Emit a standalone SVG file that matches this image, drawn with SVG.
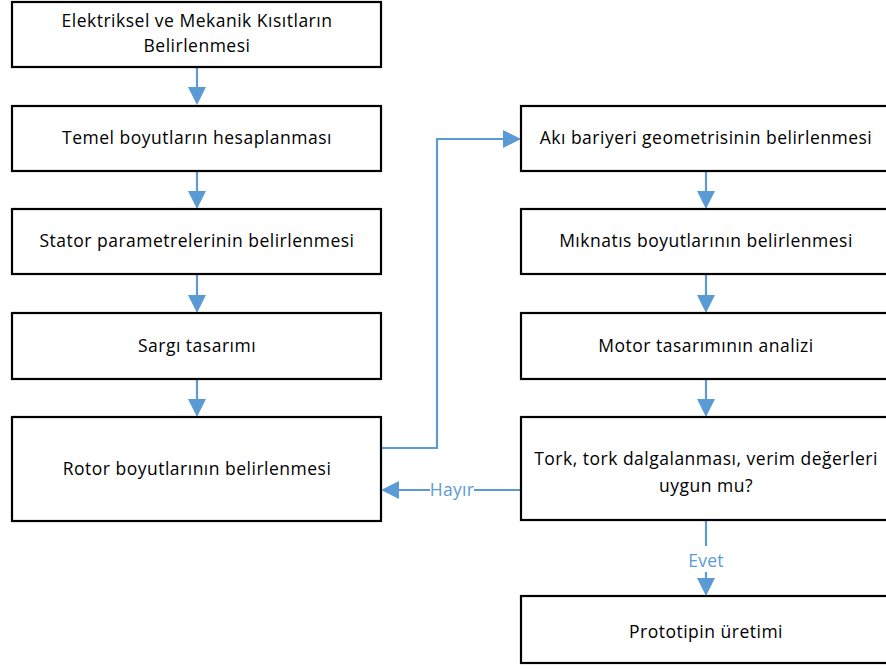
<svg xmlns="http://www.w3.org/2000/svg" width="886" height="669" viewBox="0 0 886 669">
<style>
.box{fill:#fff;stroke:#000;stroke-width:2.2}
.t{font-family:"Open Sans","Liberation Sans",Arial,sans-serif;font-size:17.5px;letter-spacing:0.5px;fill:#000;text-anchor:middle}
.c{fill:none;stroke:#5B9BD5;stroke-width:2.2}
.l{font-family:"Open Sans","Liberation Sans",Arial,sans-serif;font-size:17.5px;letter-spacing:0.3px;fill:#5B9BD5;text-anchor:middle}
</style>
<rect width="886" height="669" fill="#fff"/>
<g id="connectors">
<line class="c" x1="197" y1="67" x2="197" y2="90"/><path d="M188,87 L206,87 L197,105 Z" fill="#5B9BD5"/>
<line class="c" x1="197" y1="171" x2="197" y2="194"/><path d="M188,191 L206,191 L197,209 Z" fill="#5B9BD5"/>
<line class="c" x1="197" y1="274" x2="197" y2="298"/><path d="M188,295 L206,295 L197,313 Z" fill="#5B9BD5"/>
<line class="c" x1="197" y1="379" x2="197" y2="402"/><path d="M188,399 L206,399 L197,417 Z" fill="#5B9BD5"/>
<polyline class="c" points="381,448 437,448 437,139 505,139"/><path d="M503,130 L503,148 L521,139 Z" fill="#5B9BD5"/>
<line class="c" x1="706" y1="171" x2="706" y2="194"/><path d="M697,191 L715,191 L706,209 Z" fill="#5B9BD5"/>
<line class="c" x1="706" y1="274" x2="706" y2="298"/><path d="M697,295 L715,295 L706,313 Z" fill="#5B9BD5"/>
<line class="c" x1="706" y1="379" x2="706" y2="402"/><path d="M697,399 L715,399 L706,417 Z" fill="#5B9BD5"/>
<line class="c" x1="521" y1="490" x2="474" y2="490"/><line class="c" x1="430" y1="490" x2="397" y2="490"/><path d="M399,481 L399,499 L381,490 Z" fill="#5B9BD5"/>
<text class="l" x="452" y="496">Hayır</text>
<line class="c" x1="706" y1="520" x2="706" y2="546"/><line class="c" x1="706" y1="572" x2="706" y2="581"/><path d="M697,578 L715,578 L706,596 Z" fill="#5B9BD5"/>
<text class="l" x="706" y="567">Evet</text>
</g>
<g id="n1"><rect class="box" x="12" y="2" width="369" height="65"/><text class="t" x="197" y="27">Elektriksel ve Mekanik Kısıtların</text><text class="t" x="197" y="52">Belirlenmesi</text></g>
<g id="n2"><rect class="box" x="12" y="106" width="369" height="65"/><text class="t" x="197" y="144">Temel boyutların hesaplanması</text></g>
<g id="n3"><rect class="box" x="12" y="209" width="369" height="65"/><text class="t" x="197" y="247">Stator parametrelerinin belirlenmesi</text></g>
<g id="n4"><rect class="box" x="12" y="313" width="369" height="66"/><text class="t" x="197" y="352">Sargı tasarımı</text></g>
<g id="n5"><rect class="box" x="12" y="417" width="369" height="104"/><text class="t" x="197" y="475">Rotor boyutlarının belirlenmesi</text></g>
<g id="n6"><rect class="box" x="521" y="106" width="380" height="65"/><text class="t" x="706" y="144">Akı bariyeri geometrisinin belirlenmesi</text></g>
<g id="n7"><rect class="box" x="521" y="209" width="380" height="65"/><text class="t" x="706" y="247">Mıknatıs boyutlarının belirlenmesi</text></g>
<g id="n8"><rect class="box" x="521" y="313" width="380" height="66"/><text class="t" x="706" y="352">Motor tasarımının analizi</text></g>
<g id="n9"><rect class="box" x="521" y="417" width="380" height="103"/><text class="t" x="706" y="465">Tork, tork dalgalanması, verim değerleri</text><text class="t" x="706" y="492">uygun mu?</text></g>
<g id="n10"><rect class="box" x="521" y="596" width="380" height="67"/><text class="t" x="706" y="638">Prototipin üretimi</text></g>
</svg>
